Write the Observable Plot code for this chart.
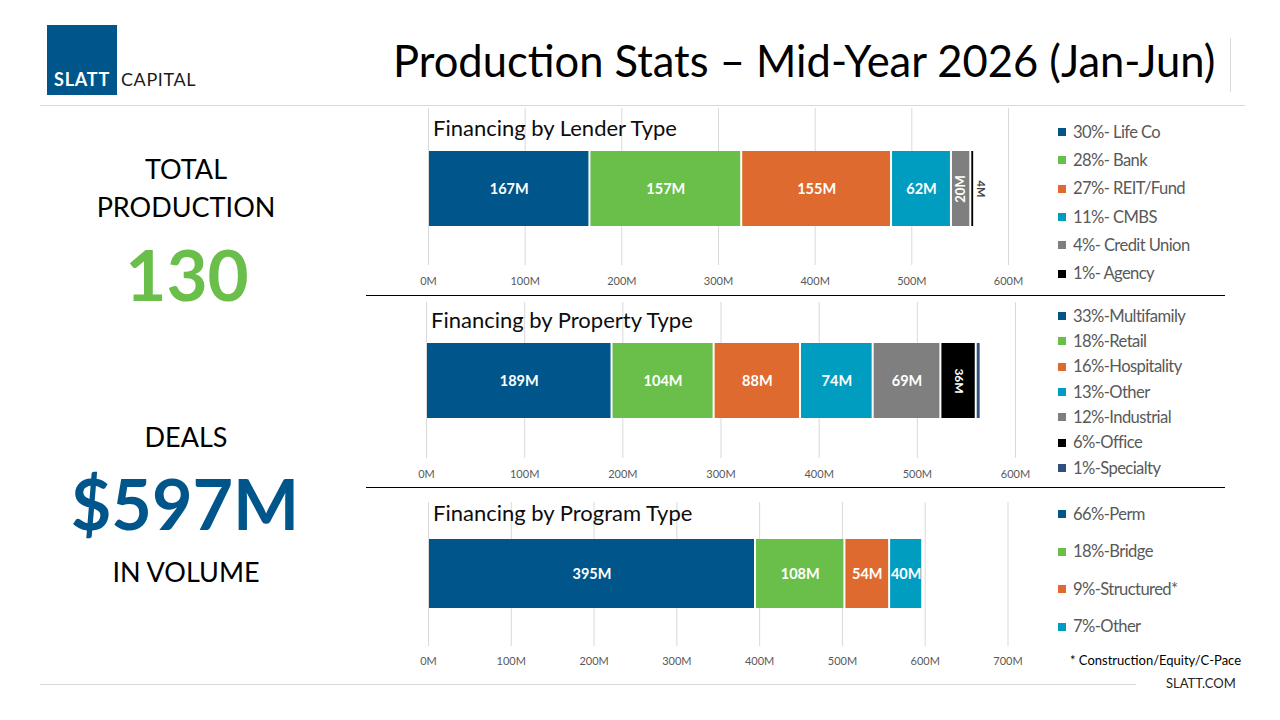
<!DOCTYPE html>
<html>
<head>
<meta charset="utf-8">
<script src="https://cdn.jsdelivr.net/npm/d3@7"></script>
<script src="https://cdn.jsdelivr.net/npm/@observablehq/plot@0.6"></script>
<style>
  html, body { margin: 0; padding: 0; background: #fff; }
  #slide { position: relative; width: 1280px; height: 720px; overflow: hidden; background: #fff; font-family: Lato, "Open Sans", sans-serif; }
  .t { position: absolute; white-space: nowrap; line-height: 1; }
  .hl { position: absolute; }
  .chart { position: absolute; }
  .chart svg { overflow: visible; }
  .leg { position: absolute; display: flex; align-items: center; white-space: nowrap; color: #595959; font-size: 16.6px; letter-spacing: -0.6px; line-height: 1; }
  .leg .sw { width: 8px; height: 8px; margin-right: 7px; flex: none; }
</style>
</head>
<body>
<div id="slide"></div>
<script>
// ---------- data ----------
const lenderCats = ["30%- Life Co", "28%- Bank", "27%- REIT/Fund", "11%- CMBS", "4%- Credit Union", "1%- Agency"];
const lenderValues = [167, 157, 155, 62, 20, 4];
const lenderTicks = [0, 100, 200, 300, 400, 500, 600];

const propertyCats = ["33%-Multifamily", "18%-Retail", "16%-Hospitality", "13%-Other", "12%-Industrial", "6%-Office", "1%-Specialty"];
const propertyValues = [189, 104, 88, 74, 69, 36, 5];
const propertyTicks = [0, 100, 200, 300, 400, 500, 600];

const programCats = ["66%-Perm", "18%-Bridge", "9%-Structured*", "7%-Other"];
const programValues = [395, 108, 54, 40];
const programTicks = [0, 100, 200, 300, 400, 500, 600, 700];

const totalDeals = "130";
const totalVolume = "$597M";

// ---------- styling ----------
const palette = ["#00558a", "#6abf4b", "#df6a2f", "#009dc0", "#7f7f7f", "#000000", "#2f4f7f"];
const slide = document.getElementById("slide");

function txt(str, o) {
  const d = document.createElement("div");
  d.className = "t";
  d.textContent = str;
  d.style.fontSize = o.size + "px";
  d.style.top = (o.y - 0.53 * o.size) + "px";
  d.style.color = o.color || "#000";
  if (o.weight) d.style.fontWeight = o.weight;
  if (o.ls != null) d.style.letterSpacing = o.ls + "px";
  if (o.anchor === "middle") { d.style.left = o.x + "px"; d.style.transform = "translateX(-50%)"; }
  else if (o.anchor === "end") { d.style.right = (1280 - o.x) + "px"; }
  else d.style.left = o.x + "px";
  slide.appendChild(d);
  return d;
}
function line(x, y, w, h, color) {
  const d = document.createElement("div");
  d.className = "hl";
  Object.assign(d.style, {left: x + "px", top: y + "px", width: w + "px", height: h + "px", background: color});
  slide.appendChild(d);
}

// ---------- header ----------
const logo = document.createElement("div");
Object.assign(logo.style, {position: "absolute", left: "47px", top: "25px", width: "70px", height: "70px", background: "#00568a"});
slide.appendChild(logo);
txt("SLATT", {x: 54, y: 80, size: 18, color: "#fff", weight: "bold", ls: 0.8});
txt("CAPITAL", {x: 121, y: 80, size: 18, color: "#1a1a1a", ls: 0.6});
txt("Production Stats \u2013 Mid-Year 2026 (Jan-Jun)", {x: 393, y: 62, size: 43.5, color: "#000"});
line(1230, 38, 1, 54, "#d9d9d9");
line(40, 105, 1205, 1, "#d9d9d9");

// ---------- left stats ----------
txt("TOTAL", {x: 186, y: 169, size: 27, anchor: "middle"});
txt("PRODUCTION", {x: 186, y: 207, size: 27, anchor: "middle"});
txt(totalDeals, {x: 187, y: 276, size: 71, weight: "bold", color: "#6abf4b", anchor: "middle"});
txt("DEALS", {x: 186, y: 437, size: 27, anchor: "middle"});
txt(totalVolume, {x: 185, y: 505, size: 70, weight: "bold", color: "#00558a", anchor: "middle"});
txt("IN VOLUME", {x: 186, y: 572, size: 27, anchor: "middle"});

// separators
line(366, 295, 859, 1, "#000");
line(366, 487, 859, 1, "#000");
line(40, 684, 1096, 1, "#d9d9d9");

// ---------- charts ----------
function makeChart(cfg) {
  const data = cfg.cats.map((c, i) => ({cat: c, value: cfg.values[i], row: "r"}));
  const xMax = cfg.ticks[cfg.ticks.length - 1];
  const common = {x: "value", y: "row"};
  const marks = [
    Plot.gridX(cfg.ticks, {stroke: "#d9d9d9", strokeOpacity: 1, strokeWidth: 1}),
    Plot.axisX(cfg.ticks, {tickSize: 0, tickPadding: cfg.tickPad, tickFormat: d => d + "M", fill: "#595959", fontSize: 11, label: null}),
    Plot.barX(data, Plot.stackX({...common, fill: "cat", insetLeft: 1, insetRight: 1})),
    Plot.text(data, Plot.stackX({...common, text: d => d.value >= 40 ? d.value + "M" : "", fill: "white", fontWeight: "bold", fontSize: 14.5})),
    Plot.text(data, Plot.stackX({...common, text: d => (d.value >= 10 && d.value < 40) ? d.value + "M" : "", fill: "white", fontWeight: "bold", fontSize: cfg.rotSize, rotate: cfg.rotate})),
  ];
  if (cfg.smallLabel) {
    marks.push(Plot.text(data, Plot.stackX({...common, text: d => d.value < 10 ? d.value + "M" : "", fill: "#404040", fontWeight: "bold", fontSize: 11, rotate: 90, dx: 8})));
  }
  const p = Plot.plot({
    width: cfg.width, height: cfg.height,
    marginTop: cfg.mt, marginBottom: cfg.mb, marginLeft: cfg.ml, marginRight: cfg.mr,
    x: {domain: [0, xMax], axis: null},
    y: {domain: ["r"], range: cfg.barY, padding: 0, axis: null},
    color: {domain: cfg.cats, range: palette.slice(0, cfg.cats.length)},
    style: {background: "transparent", fontFamily: "Lato, sans-serif", overflow: "visible"},
    marks
  });
  const wrap = document.createElement("div");
  wrap.className = "chart";
  wrap.style.left = cfg.left + "px";
  wrap.style.top = cfg.top + "px";
  wrap.appendChild(p);
  slide.appendChild(wrap);

  txt(cfg.title, {x: cfg.titleX, y: cfg.titleY, size: 22, color: "#0d0d0d"});

  // legend
  cfg.cats.forEach((c, i) => {
    const row = document.createElement("div");
    row.className = "leg";
    row.style.left = "1058px";
    row.style.top = (cfg.legY + i * cfg.legStep - 9) + "px";
    row.style.height = "18px";
    const sw = document.createElement("span");
    sw.className = "sw";
    sw.style.background = palette[i];
    const lab = document.createElement("span");
    lab.textContent = c;
    row.appendChild(sw); row.appendChild(lab);
    slide.appendChild(row);
  });
}

makeChart({
  cats: lenderCats, values: lenderValues, ticks: lenderTicks,
  left: 370, top: 105, width: 660, height: 190,
  mt: 3, mb: 30, ml: 58, mr: 22, tickPad: 12, barY: [46, 121],
  rotate: -90, rotSize: 13, smallLabel: true,
  title: "Financing by Lender Type", titleX: 433, titleY: 129,
  legY: 132, legStep: 28.3
});
makeChart({
  cats: propertyCats, values: propertyValues, ticks: propertyTicks,
  left: 370, top: 297, width: 660, height: 190,
  mt: 5, mb: 29, ml: 56, mr: 15, tickPad: 12, barY: [46, 121],
  rotate: 90, rotSize: 12, smallLabel: false,
  title: "Financing by Property Type", titleX: 431, titleY: 321,
  legY: 316, legStep: 25.3
});
makeChart({
  cats: programCats, values: programValues, ticks: programTicks,
  left: 370, top: 489, width: 660, height: 190,
  mt: 13, mb: 33, ml: 58, mr: 22.5, tickPad: 11, barY: [50, 119],
  rotate: 90, rotSize: 12, smallLabel: false,
  title: "Financing by Program Type", titleX: 433, titleY: 514,
  legY: 514, legStep: 37.5
});

// footnotes
txt("* Construction/Equity/C-Pace", {x: 1070, y: 661, size: 13, color: "#000"});
txt("SLATT.COM", {x: 1166, y: 684, size: 13, color: "#262626"});
</script>
</body>
</html>
